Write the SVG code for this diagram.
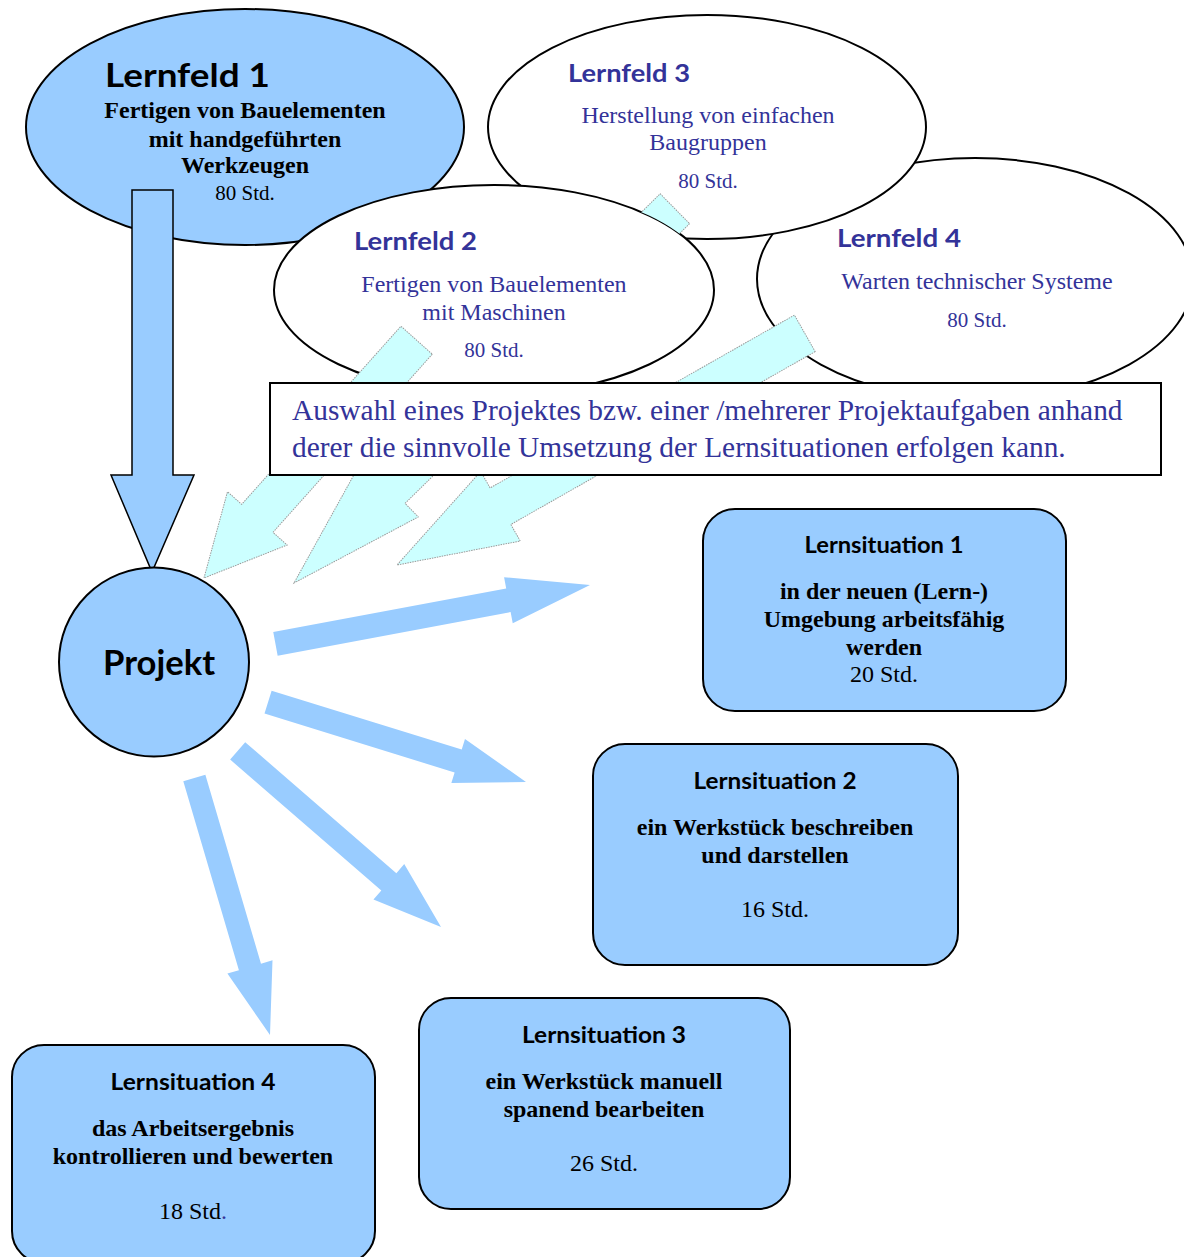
<svg xmlns="http://www.w3.org/2000/svg" width="1184" height="1257" viewBox="0 0 1184 1257">
<style>
.ell{stroke:#000;stroke-width:2}
.blue{fill:#99CCFF}
.white{fill:#FFFFFF}
.hd{font-family:Lato,"DejaVu Sans",sans-serif;font-weight:bold}
.ser{font-family:"Liberation Serif","Times New Roman",serif}
.b{font-weight:bold}
.lf{fill:#333399}
.cyan{fill:#CCFFFF;stroke:#9a9a9a;stroke-width:1;stroke-dasharray:1.5 1}
.out{fill:#99CCFF}
.box{fill:#99CCFF;stroke:#000;stroke-width:2}
</style>
<defs>
<clipPath id="notLF2" clipPathUnits="userSpaceOnUse">
<path clip-rule="evenodd" d="M0,0 H1184 V1257 H0 Z M274,290 a220,105 0 1,0 440,0 a220,105 0 1,0 -440,0 Z"/>
</clipPath>
</defs>

<g id="lernfeld1">
<ellipse class="ell blue" cx="245" cy="127" rx="219" ry="118"/>
<text class="hd" x="105" y="87" font-size="33" textLength="165" lengthAdjust="spacingAndGlyphs">Lernfeld 1</text>
<g class="ser b" font-size="24" text-anchor="middle">
<text x="245" y="118">Fertigen von Bauelementen</text>
<text x="245" y="147">mit handgeführten</text>
<text x="245" y="173">Werkzeugen</text>
</g>
<text class="ser" x="245" y="200" font-size="21" text-anchor="middle">80 Std.</text>
</g>

<g id="lernfeld4">
<ellipse class="ell white" cx="975" cy="279" rx="218" ry="121"/>
<text class="hd lf" x="837" y="247" font-size="25" textLength="124" lengthAdjust="spacingAndGlyphs">Lernfeld 4</text>
<text class="ser lf" x="977" y="289" font-size="24" text-anchor="middle">Warten technischer Systeme</text>
<text class="ser lf" x="977" y="327" font-size="21" text-anchor="middle">80 Std.</text>
</g>

<g id="lernfeld3">
<ellipse class="ell white" cx="707" cy="127" rx="219" ry="112"/>
<text class="hd lf" x="568" y="82" font-size="25" textLength="122" lengthAdjust="spacingAndGlyphs">Lernfeld 3</text>
<text class="ser lf" x="708" y="123" font-size="24" text-anchor="middle">Herstellung von einfachen</text>
<text class="ser lf" x="708" y="150" font-size="24" text-anchor="middle">Baugruppen</text>
<text class="ser lf" x="708" y="188" font-size="21" text-anchor="middle">80 Std.</text>
</g>

<g id="lernfeld2">
<ellipse class="ell white" cx="494" cy="290" rx="220" ry="105"/>
<text class="hd lf" x="354" y="250" font-size="25" textLength="123" lengthAdjust="spacingAndGlyphs">Lernfeld 2</text>
<text class="ser lf" x="494" y="292" font-size="24" text-anchor="middle">Fertigen von Bauelementen</text>
<text class="ser lf" x="494" y="320" font-size="24" text-anchor="middle">mit Maschinen</text>
<text class="ser lf" x="494" y="357" font-size="21" text-anchor="middle">80 Std.</text>
</g>

<g id="connectors">
<g clip-path="url(#notLF2)">
<polygon class="cyan" transform="translate(294,583) rotate(135.5)" points="-534,-21 -135,-21 -135,-40 0,0 -135,40 -135,21 -534,21"/>
</g>
<polygon class="cyan" transform="translate(204,578) rotate(131.8)" points="-319,-21 -80,-21 -80,-40 0,0 -80,40 -80,21 -319,21"/>
<polygon class="cyan" transform="translate(397,565) rotate(150.4)" points="-469,-21 -119,-21 -119,-40 0,0 -119,40 -119,21 -469,21"/>
<polygon fill="#99CCFF" stroke="#000" stroke-width="1.5" points="132,190 173,190 173,475 194,475 152,572 111,475 132,475"/>
<polygon class="out" transform="translate(590,585) rotate(-10.6)" points="-320,-12 -83,-12 -83,-23.5 0,0 -83,23.5 -83,12 -320,12"/>
<polygon class="out" transform="translate(526,782) rotate(17.2)" points="-270,-12 -71,-12 -71,-23 0,0 -71,23 -71,12 -270,12"/>
<polygon class="out" transform="translate(441,927) rotate(40.9)" points="-269,-11.5 -69,-11.5 -69,-23.5 0,0 -69,23.5 -69,11.5 -269,11.5"/>
<polygon class="out" transform="translate(270,1035) rotate(73.6)" points="-268,-11.5 -71,-11.5 -71,-23.5 0,0 -71,23.5 -71,11.5 -268,11.5"/>
</g>

<g id="auswahl">
<rect x="270" y="383" width="891" height="92" fill="#FFFFFF" stroke="#000" stroke-width="2"/>
<text class="ser lf" x="292" y="420" font-size="29.4">Auswahl eines Projektes bzw. einer /mehrerer Projektaufgaben anhand</text>
<text class="ser lf" x="292" y="457" font-size="29.4">derer die sinnvolle Umsetzung der Lernsituationen erfolgen kann.</text>
</g>

<g id="projekt">
<ellipse class="ell blue" cx="154" cy="662" rx="95" ry="94.5"/>
<text class="hd" x="159" y="675" font-size="34" text-anchor="middle" textLength="112" lengthAdjust="spacingAndGlyphs">Projekt</text>
</g>

<g id="lernsituation1">
<rect class="box" x="703" y="509" width="363" height="202" rx="32"/>
<text class="hd" x="884" y="553" font-size="23" text-anchor="middle" textLength="159" lengthAdjust="spacingAndGlyphs">Lernsituation 1</text>
<g class="ser" font-size="24" text-anchor="middle">
<text class="b" x="884" y="599">in der neuen (Lern-)</text>
<text class="b" x="884" y="627">Umgebung arbeitsfähig</text>
<text class="b" x="884" y="655">werden</text>
<text x="884" y="682">20 Std.</text>
</g>
</g>

<g id="lernsituation2">
<rect class="box" x="593" y="744" width="365" height="221" rx="32"/>
<text class="hd" x="775" y="789" font-size="23" text-anchor="middle" textLength="163" lengthAdjust="spacingAndGlyphs">Lernsituation 2</text>
<g class="ser" font-size="24" text-anchor="middle">
<text class="b" x="775" y="835">ein Werkstück beschreiben</text>
<text class="b" x="775" y="863">und darstellen</text>
<text x="775" y="917">16 Std.</text>
</g>
</g>

<g id="lernsituation3">
<rect class="box" x="419" y="998" width="371" height="211" rx="32"/>
<text class="hd" x="604" y="1043" font-size="23" text-anchor="middle" textLength="164" lengthAdjust="spacingAndGlyphs">Lernsituation 3</text>
<g class="ser" font-size="24" text-anchor="middle">
<text class="b" x="604" y="1089">ein Werkstück manuell</text>
<text class="b" x="604" y="1117">spanend bearbeiten</text>
<text x="604" y="1171">26 Std.</text>
</g>
</g>

<g id="lernsituation4">
<rect class="box" x="12" y="1045" width="363" height="218" rx="32"/>
<text class="hd" x="193" y="1090" font-size="23" text-anchor="middle" textLength="165" lengthAdjust="spacingAndGlyphs">Lernsituation 4</text>
<g class="ser" font-size="24" text-anchor="middle">
<text class="b" x="193" y="1136">das Arbeitsergebnis</text>
<text class="b" x="193" y="1164">kontrollieren und bewerten</text>
<text x="193" y="1219">18 Std<tspan fill="#333399">.</tspan></text>
</g>
</g>
</svg>
